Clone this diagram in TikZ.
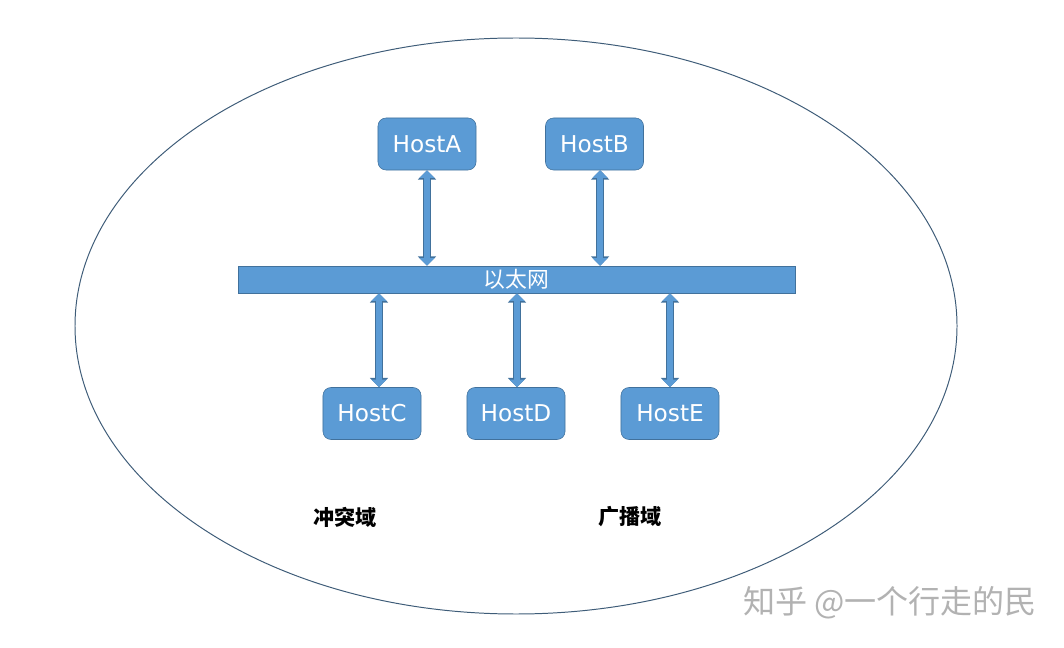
\documentclass[tikz,border=0pt]{standalone}
\usepackage{fontspec}
\setmainfont{DejaVu Sans}
\newfontfamily\cjk{Noto Sans CJK SC}
\usepackage{tikz}
\usetikzlibrary{arrows.meta,shapes}
\definecolor{hostfill}{HTML}{5B9BD5}
\definecolor{hostedge}{HTML}{41719C}
\definecolor{domainedge}{HTML}{3E5C78}
\tikzstyle{host} = [rectangle, rounded corners=0.2cm, minimum width=2.45cm, minimum height=1.3cm, draw=hostedge, fill=hostfill, text=white, font=\fontsize{16.5}{19}\selectfont]
\tikzstyle{ethernet} = [rectangle, minimum width=13.925cm, minimum height=0.675cm, draw=hostedge, fill=hostfill, text=white, inner sep=0pt, font=\cjk\fontsize{15.5}{18}\selectfont]
\tikzstyle{link} = [line width=4.6pt, draw=hostfill, {Triangle[length=5.4pt,width=10.4pt]}-{Triangle[length=5.4pt,width=10.4pt]},
    preaction={draw=hostedge, line width=6pt, arrows={Triangle[length=6.6pt,width=12.6pt]}-{Triangle[length=6.6pt,width=12.6pt]}}]
\tikzstyle{domainlabel} = [font=\cjk\bfseries\fontsize{15}{17}\selectfont]

\begin{document}
\begin{tikzpicture}[x=0.025cm, y=-0.025cm]
    \useasboundingbox (0,0) rectangle (1064,648);

    % collision / broadcast domain
    \draw [domainedge, line width=0.7pt] (516,326) ellipse [x radius=441, y radius=288];

    \node (bus) [ethernet] at (516.5,279.5) {以太网};

    \node (hostA) [host] at (427,144) {HostA};
    \node (hostB) [host] at (594.5,144) {HostB};
    \node (hostC) [host] at (372,413.5) {HostC};
    \node (hostD) [host] at (516,413.5) {HostD};
    \node (hostE) [host] at (670,413.5) {HostE};

    \coordinate (b) at ([xshift=0.14cm]hostB.south);
    \coordinate (c) at ([xshift=0.175cm]hostC.north);
    \coordinate (d) at ([xshift=0.025cm]hostD.north);

    \draw [link] (hostA.south) -- (bus.north -| hostA.south);
    \draw [link] (b) -- (bus.north -| b);
    \draw [link] (c) -- (bus.south -| c);
    \draw [link] (d) -- (bus.south -| d);
    \draw [link] (hostE.north) -- (bus.south -| hostE.north);

    \node (collision) [domainlabel] at (345,517) {冲突域};
    \node (broadcast) [domainlabel] at (630,517) {广播域};

    \node (mark) [text=black!30, font=\cjk\fontsize{22.8}{26}\selectfont] at (890,603) {知乎 @一个行走的民};

\end{tikzpicture}
\end{document}
